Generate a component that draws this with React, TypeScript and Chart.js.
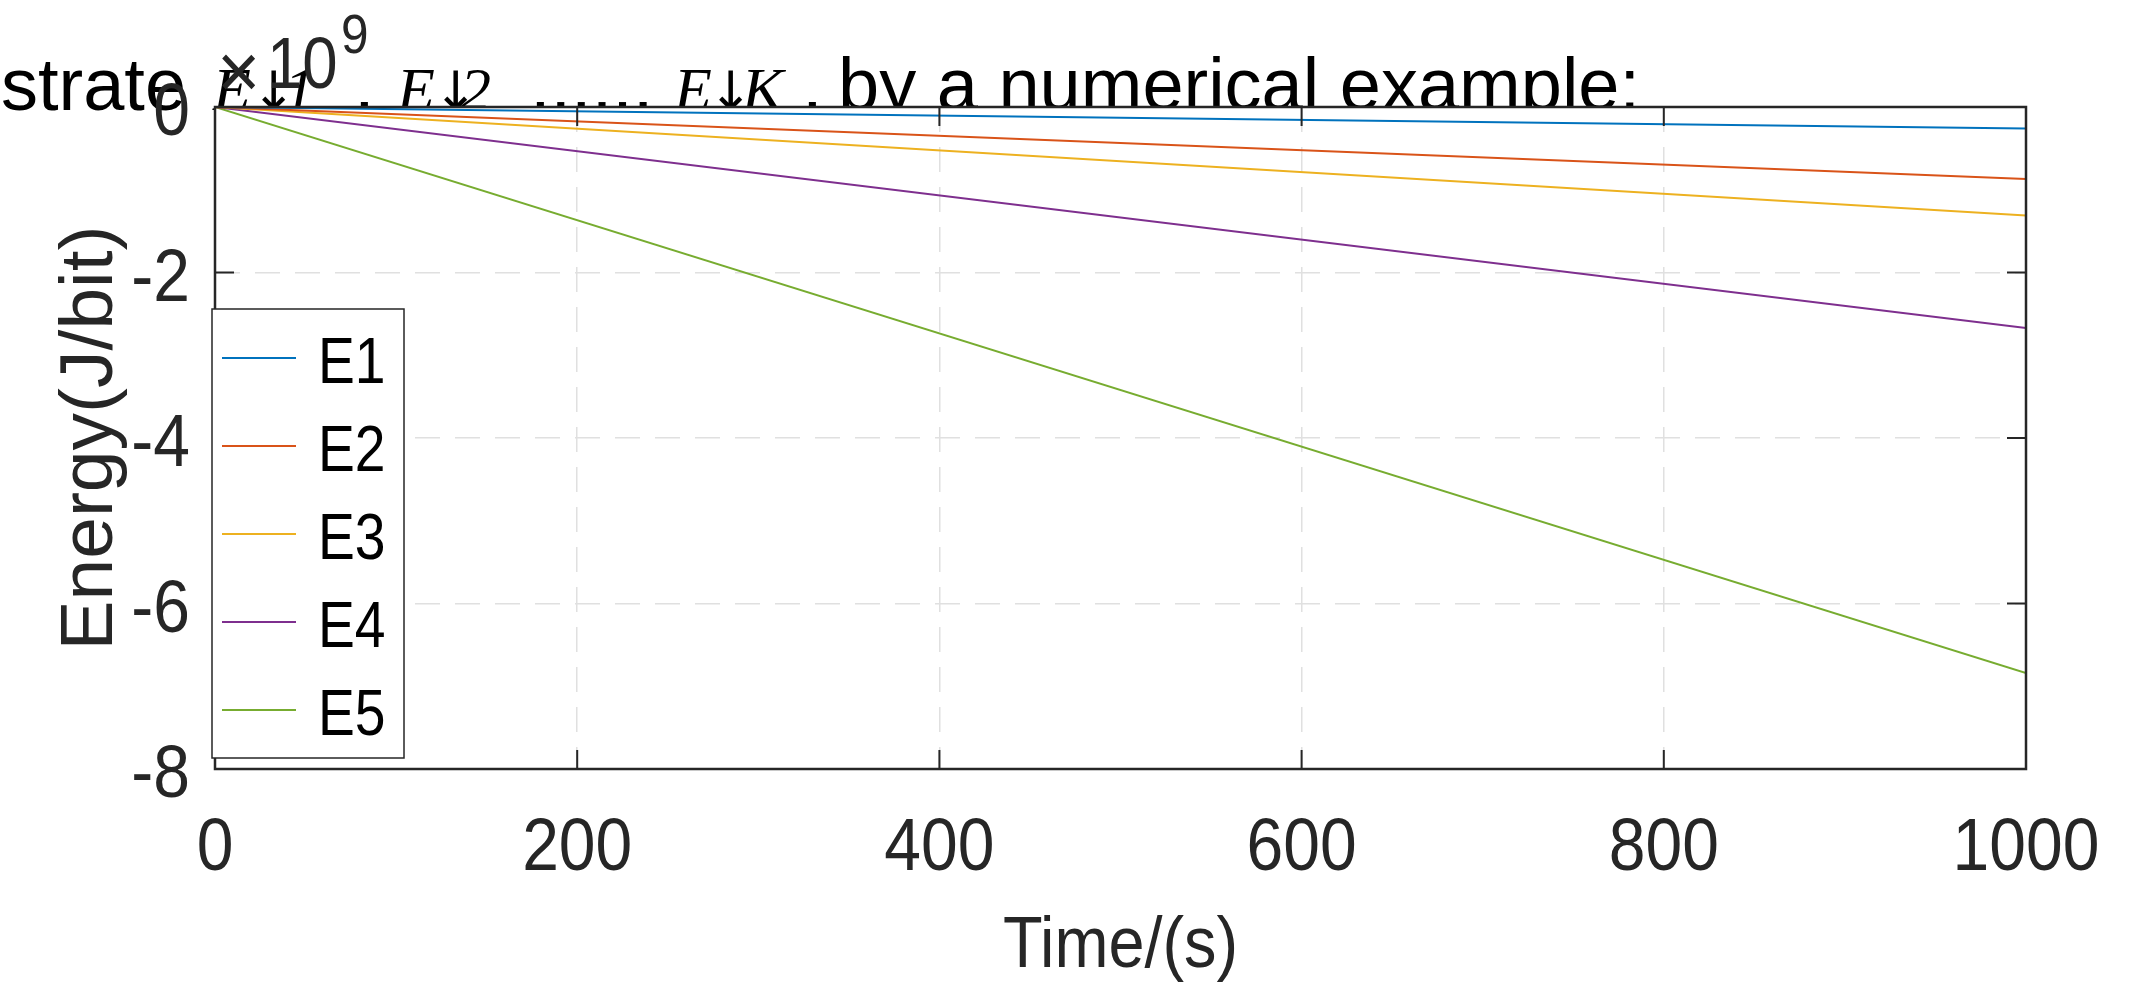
import React, { useEffect, useRef } from 'react';
import { Chart, registerables } from 'chart.js';

Chart.register(...registerables);

// ---------- data ----------
const timeS = [0, 1000];
const energyE1 = [0, -0.26e9];
const energyE2 = [0, -0.87e9];
const energyE3 = [0, -1.31e9];
const energyE4 = [0, -2.67e9];
const energyE5 = [0, -6.84e9];
const seriesNames = ['E1', 'E2', 'E3', 'E4', 'E5'];
const seriesValues = [energyE1, energyE2, energyE3, energyE4, energyE5];
const seriesColors = ['#0072BD', '#D95319', '#EDB120', '#7E2F8E', '#77AC30'];

const xTickValues = [0, 200, 400, 600, 800, 1000];
const xTickLabels = ['0', '200', '400', '600', '800', '1000'];
const yTickValues = [-8e9, -6e9, -4e9, -2e9, 0];
const yTickLabels = ['-8', '-6', '-4', '-2', '0'];
const xAxisTitle = 'Time/(s)';
const yAxisTitle = 'Energy(J/bit)';
const exponentBase = '10';
const exponentPower = '9';

// stray text fragments overlapping the top of the figure
const overlayTexts = ['strate', 'E', '\u2193', '1', ',', 'E', '\u2193', '2', ',....,', 'E', '\u2193', 'K', ',', 'by a numerical example:'];
const overlayKinds = ['sans', 'ital', 'arrow', 'ital', 'sans', 'ital', 'arrow', 'ital', 'sans', 'ital', 'arrow', 'ital', 'sans', 'sans'];
const overlayX = [1, 213, 251, 284, 354, 397, 433, 460, 530, 674, 708, 742, 802, 838];

const W = 2142;
const H = 983;
const AREA = { left: 215, top: 107, right: 2026, bottom: 769 };
const SANS = "'Liberation Sans', Arial, sans-serif";

function drawCondensed(ctx: CanvasRenderingContext2D, text: string, x: number, y: number, align: CanvasTextAlign, size: number, sx: number) {
  ctx.save();
  ctx.translate(x, y);
  ctx.scale(sx, 1);
  ctx.font = `${size}px ${SANS}`;
  ctx.textAlign = align;
  ctx.textBaseline = 'alphabetic';
  ctx.fillText(text, 0, 0);
  ctx.restore();
}

export default function App() {
  const ref = useRef<HTMLCanvasElement>(null);

  useEffect(() => {
    document.body.style.margin = '0';
    document.body.style.overflow = 'hidden';
    const axisColor = '#262626';

    const backgroundPlugin = {
      id: 'figureBackground',
      beforeDraw(chart: any) {
        const { ctx, chartArea: a } = chart;
        ctx.save();
        ctx.fillStyle = '#ffffff';
        ctx.fillRect(0, 0, chart.width, chart.height);
        ctx.fillStyle = '#000000';
        ctx.textBaseline = 'alphabetic';
        ctx.textAlign = 'left';
        overlayTexts.forEach((t, i) => {
          const kind = overlayKinds[i];
          ctx.font = kind === 'ital'
            ? "italic 62px 'Liberation Serif', 'Times New Roman', serif"
            : kind === 'arrow'
              ? "54px 'DejaVu Sans', sans-serif"
              : `74px ${SANS}`;
          ctx.fillText(t, overlayX[i], 110);
        });
        // axes background covers the text
        ctx.fillStyle = '#ffffff';
        ctx.fillRect(a.left, a.top, a.right - a.left, a.bottom - a.top);
        ctx.restore();
      },
    };

    const boxPlugin = {
      id: 'matlabBox',
      afterDatasetsDraw(chart: any) {
        const { ctx, chartArea: a, scales } = chart;
        const xs = scales.x;
        const ys = scales.y;
        const tl = 19;
        ctx.save();
        ctx.strokeStyle = axisColor;
        ctx.lineWidth = 2;
        ctx.beginPath();
        xTickValues.forEach((v) => {
          const px = xs.getPixelForValue(v);
          ctx.moveTo(px, a.bottom);
          ctx.lineTo(px, a.bottom - tl);
          ctx.moveTo(px, a.top);
          ctx.lineTo(px, a.top + tl);
        });
        yTickValues.forEach((v) => {
          const py = ys.getPixelForValue(v);
          ctx.moveTo(a.left, py);
          ctx.lineTo(a.left + tl, py);
          ctx.moveTo(a.right, py);
          ctx.lineTo(a.right - tl, py);
        });
        ctx.stroke();
        ctx.lineWidth = 2.5;
        ctx.strokeRect(a.left, a.top, a.right - a.left, a.bottom - a.top);
        ctx.restore();
      },
      afterDraw(chart: any) {
        const { ctx, chartArea: a, scales } = chart;
        const xs = scales.x;
        const ys = scales.y;
        ctx.save();
        ctx.fillStyle = axisColor;
        // tick labels, placed through the chart's scales
        xTickValues.forEach((v, i) => {
          drawCondensed(ctx, xTickLabels[i], xs.getPixelForValue(v), a.bottom + 101, 'center', 75, 0.88);
        });
        yTickValues.forEach((v, i) => {
          drawCondensed(ctx, yTickLabels[i], a.left - 25, ys.getPixelForValue(v) + 28, 'right', 75, 0.88);
        });
        // x axis title
        drawCondensed(ctx, xAxisTitle, (a.left + a.right) / 2, 967, 'center', 72, 0.9);

        // exponent marker
        drawCondensed(ctx, '\u00d7', 217, 98, 'left', 78, 0.95);
        drawCondensed(ctx, exponentBase, 267, 88, 'left', 73, 0.87);
        drawCondensed(ctx, exponentPower, 341, 53, 'left', 55, 0.9);

        // legend
        const lx = 212, ly = 309, lw = 192, lh = 449;
        ctx.fillStyle = '#ffffff';
        ctx.fillRect(lx, ly, lw, lh);
        ctx.strokeStyle = axisColor;
        ctx.lineWidth = 1.5;
        ctx.strokeRect(lx, ly, lw, lh);
        chart.data.datasets.forEach((ds: any, i: number) => {
          const y = 358 + i * 88;
          ctx.strokeStyle = ds.borderColor;
          ctx.lineWidth = 2;
          ctx.beginPath();
          ctx.moveTo(222, y);
          ctx.lineTo(296, y);
          ctx.stroke();
          ctx.fillStyle = '#000000';
          drawCondensed(ctx, ds.label, 318, y + 25, 'left', 65, 0.85);
        });
        ctx.restore();
      },
    };

    const datasets = seriesNames.map((name, i) => ({
      label: name,
      data: timeS.map((t, j) => ({ x: t, y: seriesValues[i][j] })),
      borderColor: seriesColors[i],
      backgroundColor: seriesColors[i],
      borderWidth: 2,
      pointRadius: 0,
      tension: 0,
      fill: false,
    }));

    const gridColor = '#e0e0e0';

    const chart = new Chart(ref.current as HTMLCanvasElement, {
      type: 'line',
      data: { datasets },
      plugins: [backgroundPlugin, boxPlugin],
      options: {
        animation: false,
        responsive: false,
        devicePixelRatio: 1,
        layout: { padding: { top: AREA.top, right: W - AREA.right, left: 0, bottom: 0 } },
        plugins: { legend: { display: false }, tooltip: { enabled: false }, title: { display: false } },
        scales: {
          x: {
            type: 'linear',
            min: 0,
            max: 1000,
            afterBuildTicks: (s: any) => {
              s.ticks = xTickValues.map((v) => ({ value: v }));
            },
            afterFit: (s: any) => {
              s.height = H - AREA.bottom;
            },
            grid: { color: gridColor, lineWidth: 1.5, drawTicks: false },
            border: { display: false, dash: [25, 15] },
            ticks: { display: false, autoSkip: false, maxRotation: 0 },
            title: { display: false, text: xAxisTitle },
          },
          y: {
            type: 'linear',
            min: -8e9,
            max: 0,
            afterBuildTicks: (s: any) => {
              s.ticks = yTickValues.map((v) => ({ value: v }));
            },
            afterFit: (s: any) => {
              s.width = AREA.left;
            },
            grid: { color: gridColor, lineWidth: 1.5, drawTicks: false },
            border: { display: false, dash: [25, 15] },
            ticks: { display: false, autoSkip: false },
            title: {
              display: true,
              text: yAxisTitle,
              color: axisColor,
              font: { family: SANS, size: 75 },
              padding: { top: 46, bottom: 0 },
            },
          },
        },
      },
    } as any);

    return () => chart.destroy();
  }, []);

  return (
    <div style={{ width: W, height: H, overflow: 'hidden' }}>
      <canvas ref={ref} width={W} height={H} style={{ display: 'block', width: W, height: H }} />
    </div>
  );
}
